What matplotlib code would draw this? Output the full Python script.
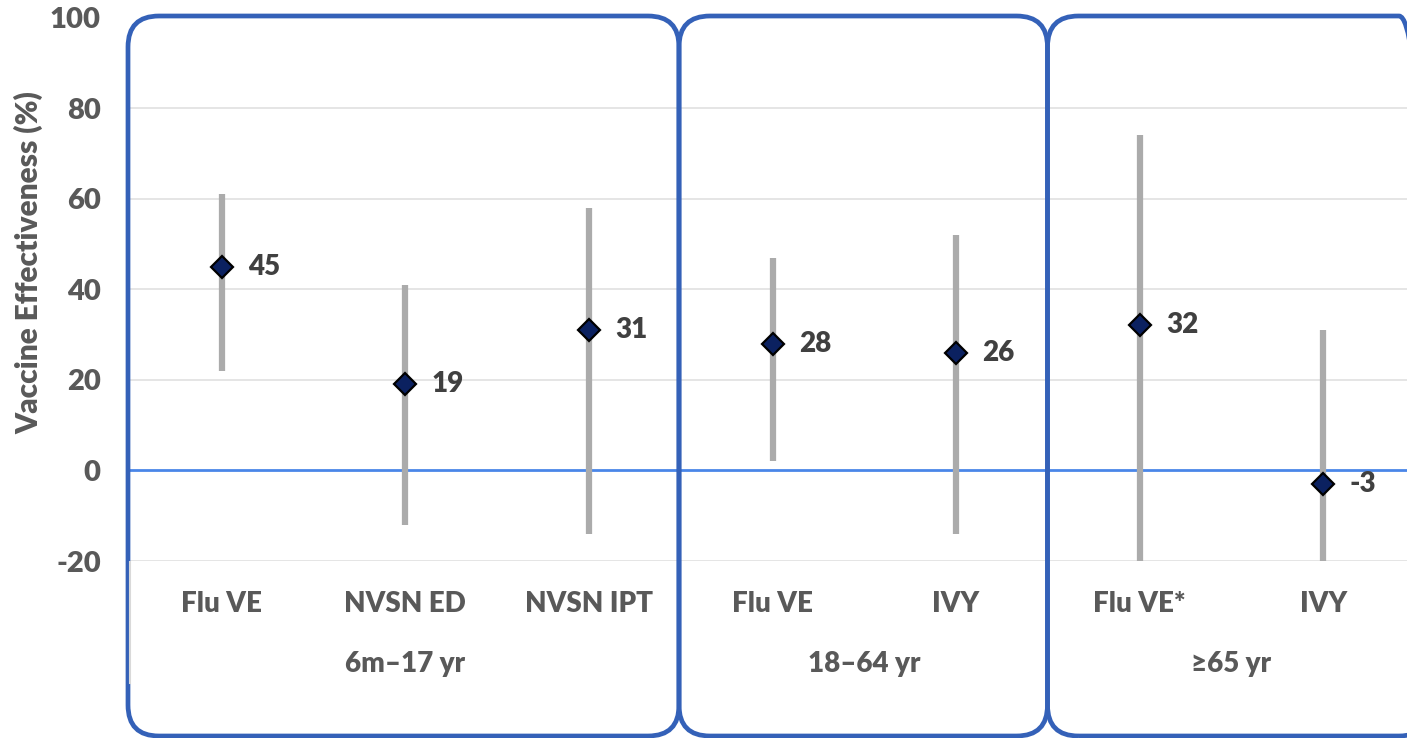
import matplotlib
matplotlib.use("Agg")
import matplotlib.pyplot as plt
from matplotlib.patches import FancyBboxPatch
from matplotlib.lines import Line2D

plt.rcParams['font.family'] = ['Lato', 'DejaVu Sans']
plt.rcParams['axes.unicode_minus'] = False
WEIGHT = "heavy"

# data
categories = ["Flu VE", "NVSN ED", "NVSN IPT", "Flu VE", "IVY", "Flu VE*", "IVY"]
ve = [45, 19, 31, 28, 26, 32, -3]
ci_low = [22, -12, -14, 2, -14, -20, -20]
ci_high = [61, 41, 58, 47, 52, 74, 31]
groups = ["6m\u201317 yr", "18\u201364 yr", "\u226565 yr"]
group_sizes = [3, 2, 2]
yticks = [-20, 0, 20, 40, 60, 80, 100]

W, H = 1407, 738
fig = plt.figure(figsize=(W / 100, H / 100), dpi=100)

# axes placement in pixels
ax_left, ax_right = 130, 1415
ax_top, ax_bot = 17.5, 561
ax = fig.add_axes([ax_left / W, 1 - ax_bot / H, (ax_right - ax_left) / W, (ax_bot - ax_top) / H])

x = list(range(len(categories)))
ax.set_xlim(-0.5, len(categories) - 0.5)
ax.set_ylim(-20, 100)

for yv in yticks:
    if yv != 0:
        ax.axhline(yv, color="#e3e3e3", lw=1.3, zorder=0)
ax.axhline(0, color="#4a86e8", lw=2, zorder=1)

ax.vlines(x, ci_low, ci_high, color="#ababab", lw=4.5, zorder=2)
ax.plot(x, ve, ls="none", marker="D", markersize=11, markerfacecolor="#0b2160",
        markeredgecolor="black", markeredgewidth=1.6, zorder=3)

for xi, v in zip(x, ve):
    ax.annotate(str(v), (xi, v), xytext=(19, 0), textcoords="offset points",
                ha="left", va="center", fontsize=20, fontweight=WEIGHT, color="#404040")

for s in ax.spines.values():
    s.set_visible(False)
ax.set_xticks([])
ax.set_yticks(yticks)
ax.tick_params(axis="y", length=0, pad=21, labelsize=21, labelcolor="#595959")
for lab in ax.get_yticklabels():
    lab.set_fontweight(WEIGHT)

# category labels and group labels
for xi, c in zip(x, categories):
    ax.annotate(c, (xi, 0), xycoords=("data", "axes fraction"), xytext=(0, -31),
                textcoords="offset points", ha="center", va="center",
                fontsize=20, fontweight=WEIGHT, color="#595959")
start = 0
for g, n in zip(groups, group_sizes):
    mid = start + (n - 1) / 2
    ax.annotate(g, (mid, 0), xycoords=("data", "axes fraction"), xytext=(0, -74),
                textcoords="offset points", ha="center", va="center",
                fontsize=20, fontweight=WEIGHT, color="#595959")
    start += n

# multi-level axis separator at the left
fig.add_artist(Line2D([130 / W, 130 / W], [1 - 562 / H, 1 - 683 / H], color="#d9d9d9", lw=1.5))

fig.text(29 / W, 1 - 263 / H, "Vaccine Effectiveness (%)", rotation=90, ha="center", va="center",
         fontsize=21.5, fontweight=WEIGHT, color="#595959")

# rounded panel boxes
box_edges = [128, 679, 1047.5, 1430]
for x0, x1 in zip(box_edges[:-1], box_edges[1:]):
    box = FancyBboxPatch((x0 / W, 1 - 736 / H), (x1 - x0) / W, (736 - 16) / H,
                         boxstyle="round,pad=0,rounding_size=0.022",
                         transform=fig.transFigure, fill=False, edgecolor="#3461b8", lw=3.4,
                         mutation_aspect=W / H)
    fig.add_artist(box)

fig.savefig("out.png", dpi=100)
